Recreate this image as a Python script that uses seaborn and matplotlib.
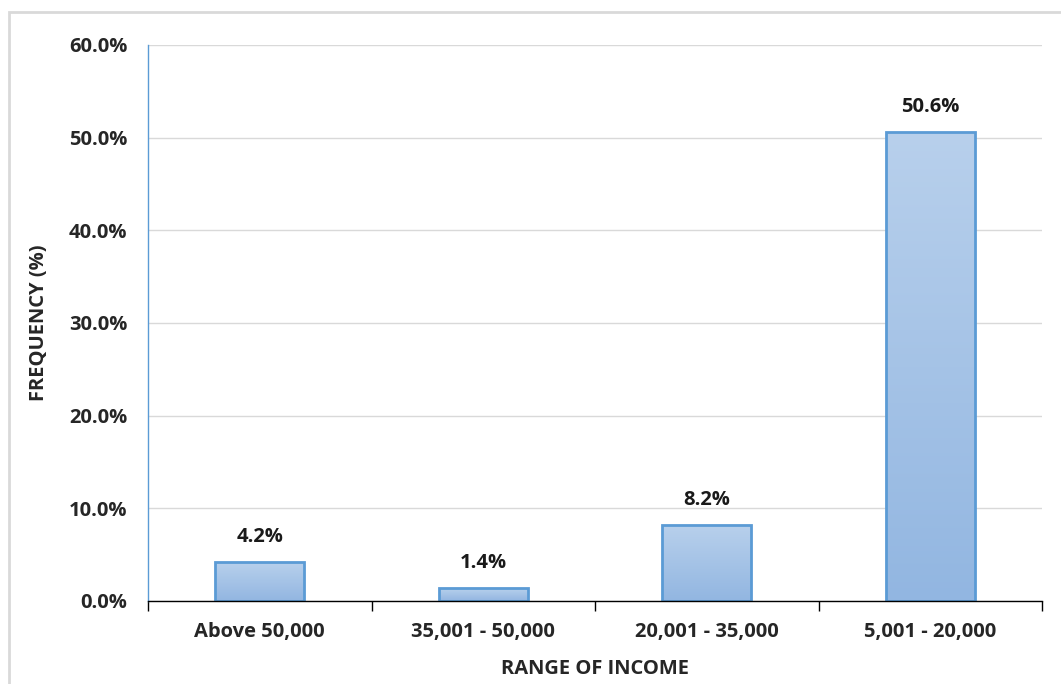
import numpy as np
import pandas as pd
import matplotlib
matplotlib.use("Agg")
import matplotlib.pyplot as plt
import seaborn as sns
from matplotlib.patches import Rectangle
from matplotlib.ticker import PercentFormatter, FixedLocator

# Datos
categories = ["Above 50,000", "35,001 - 50,000", "20,001 - 35,000", "5,001 - 20,000"]
frequency = [4.2, 1.4, 8.2, 50.6]
labels = ["4.2%", "1.4%", "8.2%", "50.6%"]

df = pd.DataFrame({"income": categories, "freq": frequency})

sns.set_style("white")
plt.rcParams["font.family"] = ["Open Sans", "DejaVu Sans"]
plt.rcParams["font.weight"] = "bold"
fs = 14.5

fig = plt.figure(figsize=(10.61, 6.84), dpi=100)
ax = fig.add_axes([148 / 1061, 1 - 601 / 684, (1042 - 148) / 1061, (601 - 45) / 684])

sns.barplot(data=df, x="income", y="freq", ax=ax, width=0.4,
            color="#A9C6E8", edgecolor="#5B9BD5", linewidth=2)

# degradado en las barras
grad = np.linspace(0, 1, 256).reshape(-1, 1)
cmap = matplotlib.colors.LinearSegmentedColormap.from_list("g", ["#92B6E1", "#B8D0EC"])
for p in ax.patches:
    x0, y0 = p.get_x(), p.get_y()
    w, h = p.get_width(), p.get_height()
    im = ax.imshow(grad, cmap=cmap, aspect="auto", origin="lower",
                   extent=[x0, x0 + w, y0, y0 + h], zorder=p.get_zorder() - 0.1)
    im.set_clip_path(p)
    p.set_facecolor("none")

for i, (v, lab) in enumerate(zip(frequency, labels)):
    ax.text(i, v + 1.6, lab, ha="center", va="bottom", fontsize=fs, fontweight="bold", color="#1a1a1a")

ax.set_xlim(-0.5, 3.5)
ax.set_ylim(0, 60)
ax.set_yticks(np.arange(0, 61, 10))
ax.yaxis.set_major_formatter(PercentFormatter(decimals=1))
ax.yaxis.grid(True, color="#D9D9D9", linewidth=1)
ax.set_axisbelow(True)

ax.xaxis.set_major_locator(FixedLocator([-0.5, 0.5, 1.5, 2.5, 3.5]))
ax.set_xticklabels([])
ax.xaxis.set_minor_locator(FixedLocator([0, 1, 2, 3]))
ax.set_xticklabels(categories, minor=True)
ax.tick_params(axis="x", which="major", direction="out", length=7, width=1, color="black", bottom=True)
ax.tick_params(axis="x", which="minor", length=0, pad=15, labelsize=fs)
ax.tick_params(axis="y", length=0, pad=15, labelsize=fs)

for s in ["top", "right"]:
    ax.spines[s].set_visible(False)
ax.spines["left"].set_color("#5B9BD5")
ax.spines["left"].set_linewidth(1)
ax.spines["bottom"].set_color("black")
ax.spines["bottom"].set_linewidth(1)

ax.set_xlabel("RANGE OF INCOME", fontsize=fs, fontweight="bold", labelpad=12)
ax.set_ylabel("FREQUENCY (%)", fontsize=fs, fontweight="bold", labelpad=14)

# borde del gráfico
fig.patches.append(Rectangle((9 / 1061, -0.05), 1.1, 1 - 12 / 684 + 0.05, transform=fig.transFigure,
                             fill=False, edgecolor="#D9D9D9", linewidth=2, zorder=0))

fig.savefig("out.png", dpi=100)
